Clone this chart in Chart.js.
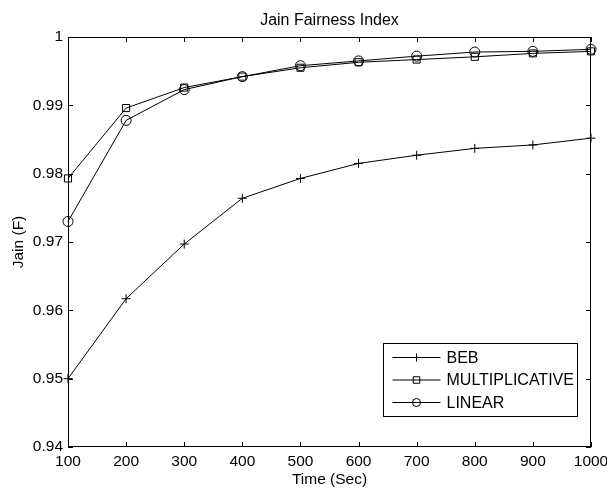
<!DOCTYPE html>
<html>
<head>
<meta charset="utf-8">
<script src="https://cdn.jsdelivr.net/npm/chart.js@4"></script>
<style>
  html, body { margin: 0; padding: 0; background: #fff; }
  #wrap { width: 607px; height: 490px; }
</style>
</head>
<body>
<div id="wrap"><canvas id="myChart" width="607" height="490"></canvas></div>
<script>
const times = [100, 200, 300, 400, 500, 600, 700, 800, 900, 1000];
const beb = [0.9500, 0.9617, 0.9697, 0.9764, 0.9793, 0.9815, 0.9827, 0.9837, 0.9842, 0.9852];
const multiplicative = [0.9793, 0.9896, 0.9926, 0.9942, 0.9955, 0.9963, 0.9967, 0.9971, 0.9976, 0.9979];
const linear = [0.9730, 0.9878, 0.9923, 0.9942, 0.9958, 0.9965, 0.9972, 0.9978, 0.9979, 0.9982];
const xTicks = [100, 200, 300, 400, 500, 600, 700, 800, 900, 1000];
const yTicks = [0.94, 0.95, 0.96, 0.97, 0.98, 0.99, 1];

const FONT = 'Liberation Sans, Arial, sans-serif';
const FS = 15.5;

function points(ys) {
  return times.map((t, i) => ({ x: t, y: ys[i] }));
}

function series(label, ys, style, radius, legendRadius) {
  return {
    label: label,
    data: points(ys),
    borderColor: '#000',
    borderWidth: 1,
    backgroundColor: 'rgba(0,0,0,0)',
    pointStyle: style,
    pointRadius: radius,
    pointBorderColor: '#000',
    pointBorderWidth: 1,
    pointBackgroundColor: 'rgba(0,0,0,0)',
    legendRadius: legendRadius,
    tension: 0,
    clip: false
  };
}

// box around the plot, inward ticks on all four sides, MATLAB-ish legend
const matlabFrame = {
  id: 'matlabFrame',
  afterDraw(chart) {
    const { ctx, chartArea: a, scales } = chart;
    ctx.save();
    ctx.strokeStyle = '#000';
    ctx.lineWidth = 1;
    ctx.strokeRect(a.left + 0.5, a.top + 0.5, a.right - a.left - 1, a.bottom - a.top - 1);
    ctx.beginPath();
    xTicks.forEach(v => {
      const x = Math.round(scales.x.getPixelForValue(v)) + 0.5;
      ctx.moveTo(x, a.bottom); ctx.lineTo(x, a.bottom - 5);
      ctx.moveTo(x, a.top); ctx.lineTo(x, a.top + 5);
    });
    yTicks.forEach(v => {
      const y = Math.round(scales.y.getPixelForValue(v)) + 0.5;
      ctx.moveTo(a.left, y); ctx.lineTo(a.left + 5, y);
      ctx.moveTo(a.right, y); ctx.lineTo(a.right - 5, y);
    });
    ctx.stroke();

    // legend
    const bx = 383.5, by = 343.5, bw = 194, bh = 73;
    ctx.fillStyle = '#fff';
    ctx.fillRect(bx, by, bw, bh);
    ctx.strokeRect(bx, by, bw, bh);
    ctx.font = '16px ' + FONT;
    ctx.textBaseline = 'middle';
    chart.data.datasets.forEach((ds, i) => {
      const y = by + 14 + i * 22.5;
      ctx.beginPath();
      ctx.moveTo(bx + 9, y);
      ctx.lineTo(bx + 57, y);
      ctx.stroke();
      ctx.fillStyle = 'rgba(0,0,0,0)';
      Chart.helpers.drawPoint(ctx, {
        pointStyle: ds.pointStyle, radius: ds.legendRadius, rotation: 0, borderWidth: 1
      }, bx + 33, y);
      ctx.fillStyle = '#000';
      ctx.fillText(ds.label, bx + 63, y + 1);
    });
    ctx.restore();
  }
};

const ctx = document.getElementById('myChart').getContext('2d');

new Chart(ctx, {
  type: 'line',
  data: {
    datasets: [
      series('BEB', beb, 'cross', 4.5, 4),
      series('MULTIPLICATIVE', multiplicative, 'rect', 5, 4.6),
      series('LINEAR', linear, 'circle', 5, 4)
    ]
  },
  options: {
    responsive: false,
    animation: false,
    devicePixelRatio: 1,
    layout: { padding: { left: 0, right: 16, top: 0, bottom: 0 } },
    plugins: {
      legend: { display: false },
      tooltip: { enabled: false },
      title: {
        display: true,
        text: 'Jain Fairness Index',
        color: '#000',
        fullSize: false,
        font: { family: FONT, size: 16, weight: 'normal' },
        padding: { top: 10.5, bottom: 7.3 }
      }
    },
    scales: {
      x: {
        type: 'linear',
        min: 100,
        max: 1000,
        afterFit(scale) {
          scale.height = 43;
          scale.paddingLeft = 0;
          scale.paddingRight = 0;
        },
        afterBuildTicks(scale) { scale.ticks = xTicks.map(v => ({ value: v })); },
        ticks: {
          color: '#000',
          padding: 5,
          maxRotation: 0,
          font: { family: FONT, size: FS },
          callback: v => String(v)
        },
        grid: { display: false, drawTicks: false },
        border: { display: false },
        title: {
          display: true,
          text: 'Time (Sec)',
          color: '#000',
          font: { family: FONT, size: FS },
          padding: { top: 0, bottom: 1 }
        }
      },
      y: {
        min: 0.94,
        max: 1,
        afterFit(scale) { scale.width = 68; },
        afterBuildTicks(scale) { scale.ticks = yTicks.map(v => ({ value: v })); },
        ticks: {
          color: '#000',
          padding: 5,
          font: { family: FONT, size: FS },
          callback: v => String(Number(v.toFixed(2)))
        },
        grid: { display: false, drawTicks: false },
        border: { display: false },
        title: {
          display: true,
          text: 'Jain (F)',
          color: '#000',
          font: { family: FONT, size: FS },
          padding: { top: 9, bottom: 0 }
        }
      }
    }
  },
  plugins: [matlabFrame]
});
</script>
</body>
</html>
